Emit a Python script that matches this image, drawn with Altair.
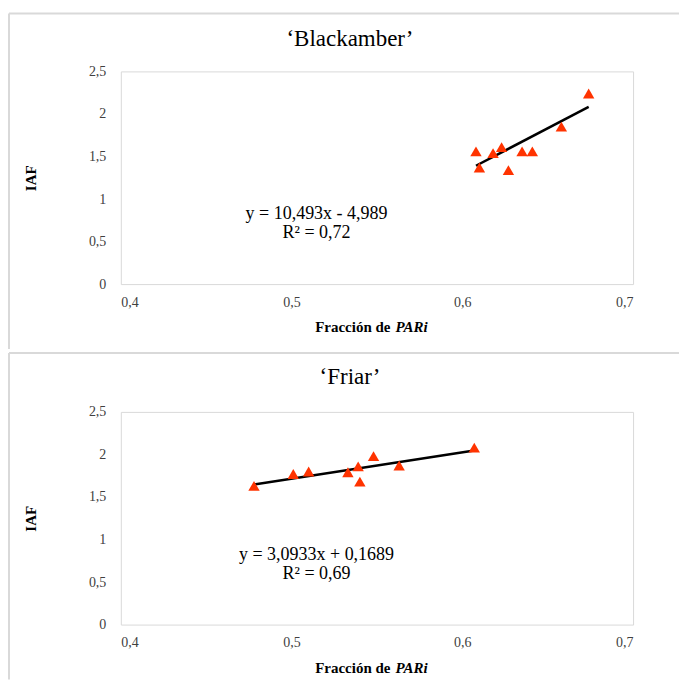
import altair as alt
import pandas as pd

# Fraction of intercepted PAR (x) vs leaf area index IAF (y), two cultivars
titles = ["‘Blackamber’", "‘Friar’"]

black_x = [0.608, 0.610, 0.618, 0.623, 0.627, 0.635, 0.641, 0.658, 0.674]
black_y = [1.56, 1.37, 1.54, 1.61, 1.34, 1.56, 1.56, 1.85, 2.24]

friar_x = [0.478, 0.501, 0.510, 0.533, 0.539, 0.540, 0.548, 0.563, 0.607]
friar_y = [1.63, 1.77, 1.80, 1.79, 1.86, 1.68, 1.98, 1.87, 2.08]

# linear fits (slope, intercept) and their printed equations
black_fit = (10.493, -4.989)
friar_fit = (3.0933, 0.1689)
black_eq = ["y = 10,493x - 4,989", "R² = 0,72"]
friar_eq = ["y = 3,0933x + 0,1689", "R² = 0,69"]

x_ticks = [0.4, 0.5, 0.6, 0.7]
y_ticks = [0, 0.5, 1, 1.5, 2, 2.5]
x_title = ["Fracción de", "PARi"]
y_title = "IAF"

W, H = 513, 213
FONT = "Liberation Serif"
RED = "#ff3300"
FRAME = "#d9d9d9"
COMMA = "replace(toString(datum.value), '.', ',')"


def one_row(**kw):
    return pd.DataFrame({k: [v] for k, v in kw.items()} or {"k": [0]})


def panel(title, xs, ys, fit, eq, title_dy, top_gap, frame_bottom):
    pts = pd.DataFrame({"x": xs, "y": ys})
    slope, icpt = fit
    x0, x1 = min(xs), max(xs)
    fit_df = pd.DataFrame({"x": [x0, x1], "y": [slope * x0 + icpt, slope * x1 + icpt]})

    xsc = alt.Scale(domain=[0.4, 0.7], nice=False, zero=False)
    ysc = alt.Scale(domain=[0, 2.5], nice=False)
    xax = alt.Axis(values=x_ticks, labelExpr=COMMA, title=None, ticks=False,
                   domain=False, grid=False, labelFont=FONT, labelFontSize=14,
                   labelColor="#404040", labelPadding=11)
    yax = alt.Axis(values=y_ticks, labelExpr=COMMA, title=y_title, ticks=False,
                   domain=False, grid=False, labelFont=FONT, labelFontSize=14,
                   labelColor="#404040", labelPadding=15,
                   titleFont=FONT, titleFontSize=15, titleFontWeight="bold",
                   titleColor="black", titleX=-90, titleY=H / 2,
                   titleAngle=-90, titleAlign="center", titleBaseline="middle")

    points = alt.Chart(pts).mark_point(
        shape="triangle-up", filled=True, color=RED, size=130, opacity=1
    ).encode(x=alt.X("x:Q", scale=xsc, axis=xax), y=alt.Y("y:Q", scale=ysc, axis=yax))

    trend = alt.Chart(fit_df).mark_line(color="black", strokeWidth=2.5).encode(
        x=alt.X("x:Q", scale=xsc, axis=xax), y=alt.Y("y:Q", scale=ysc, axis=yax))

    head = alt.Chart(one_row(t=title)).mark_text(
        font=FONT, fontSize=23, color="black", align="center", baseline="middle"
    ).encode(text="t:N", x=alt.value(229.5), y=alt.value(title_dy))

    eq1 = alt.Chart(one_row(t=eq[0])).mark_text(
        font=FONT, fontSize=18, color="black", align="center", baseline="middle"
    ).encode(text="t:N", x=alt.value(196), y=alt.value(143))
    eq2 = alt.Chart(one_row(t=eq[1])).mark_text(
        font=FONT, fontSize=18, color="black", align="center", baseline="middle"
    ).encode(text="t:N", x=alt.value(196), y=alt.value(162))

    xt1 = alt.Chart(one_row(t=x_title[0])).mark_text(
        font=FONT, fontSize=15, fontWeight="bold", color="black",
        align="right", baseline="middle"
    ).encode(text="t:N", x=alt.value(270), y=alt.value(H + 43))
    xt2 = alt.Chart(one_row(t=x_title[1])).mark_text(
        font=FONT, fontSize=15, fontWeight="bold", fontStyle="italic",
        color="black", align="left", baseline="middle"
    ).encode(text="t:N", x=alt.value(275), y=alt.value(H + 43))

    # panel frame: top edge and left edge
    top_edge = alt.Chart(one_row()).mark_rule(color=FRAME, strokeWidth=2).encode(
        x=alt.value(-112), x2=alt.value(559), y=alt.value(-top_gap))
    left_edge = alt.Chart(one_row()).mark_rule(color=FRAME, strokeWidth=2).encode(
        x=alt.value(-112), y=alt.value(-top_gap), y2=alt.value(frame_bottom))

    return alt.layer(top_edge, left_edge, trend, points, head, eq1, eq2, xt1, xt2).properties(
        width=W, height=H)


top = panel(titles[0], black_x, black_y, black_fit, black_eq, -32, 58, 278)
bottom = panel(titles[1], friar_x, friar_y, friar_fit, friar_eq, -35, 59, 268)

chart = alt.vconcat(top, bottom, spacing=0).configure_view(
    stroke=FRAME, strokeWidth=1
).properties(
    padding={"left": 7, "top": 11, "right": 0, "bottom": 0},
    background="white",
)

chart.save("out.html", embed_options={"renderer": "svg", "actions": False})
